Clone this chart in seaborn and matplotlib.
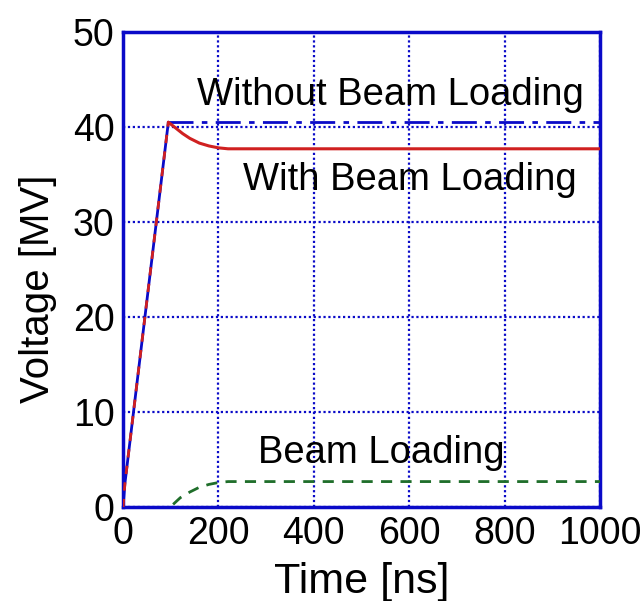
import matplotlib
matplotlib.use("Agg")
import matplotlib.pyplot as plt
import seaborn as sns

# Data
t_rise = [0, 4, 95]
v_rise = [0.0, 2.5, 40.5]

t_without = [95, 1000]
v_without = [40.5, 40.5]

t_with = [95, 110, 125, 140, 160, 180, 200, 220, 1000]
v_with = [40.5, 39.9, 39.3, 38.8, 38.3, 38.0, 37.8, 37.7, 37.7]

t_beam = [105, 120, 140, 160, 180, 200, 220, 1000]
v_beam = [0.3, 1.0, 1.6, 2.1, 2.4, 2.6, 2.7, 2.7]

x_ticks = [0, 200, 400, 600, 800, 1000]
y_ticks = [0, 10, 20, 30, 40, 50]

labels = ["Without Beam Loading", "With Beam Loading", "Beam Loading"]

sns.set_style("white")
plt.rcParams['font.family'] = ['Liberation Sans', 'DejaVu Sans']
plt.rcParams['text.color'] = 'black'
plt.rcParams['axes.labelcolor'] = 'black'

BLUE = "#0a0ac8"
RED = "#d02020"
GREEN = "#1f6e2a"

fig = plt.figure(figsize=(6.44, 6.01), dpi=100)
ax = fig.add_axes([0.191, 0.156, 0.741, 0.791])

sns.lineplot(x=t_rise, y=v_rise, ax=ax, color=BLUE, lw=2, zorder=3)
sns.lineplot(x=t_rise, y=v_rise, ax=ax, color=RED, lw=2, linestyle=(0, (3, 3)), zorder=4)
sns.lineplot(x=t_without, y=v_without, ax=ax, color=BLUE, lw=2,
             linestyle=(0, (9, 3, 2, 3)), zorder=3)
sns.lineplot(x=t_with, y=v_with, ax=ax, color=RED, lw=2.2, zorder=3)
sns.lineplot(x=t_beam, y=v_beam, ax=ax, color=GREEN, lw=2,
             linestyle=(0, (4, 3)), zorder=3)

ax.set_xlim(0, 1000)
ax.set_ylim(0, 50)
ax.set_xticks(x_ticks)
ax.set_yticks(y_ticks)
ax.set_xticklabels([str(v) for v in x_ticks])
ax.set_yticklabels([str(v) for v in y_ticks])
ax.tick_params(axis='both', labelsize=27, labelcolor='black', direction='in',
               length=4, width=1.5, pad=6, color=BLUE)

ax.grid(True, color=BLUE, linestyle=(0, (1, 1.2)), linewidth=1.6, zorder=1)
ax.set_axisbelow(True)
for s in ax.spines.values():
    s.set_color(BLUE)
    s.set_linewidth(2.5)
    s.set_visible(True)

ax.set_xlabel("Time [ns]", fontsize=31)
ax.set_ylabel("Voltage [MV]", fontsize=29)
ax.xaxis.set_label_coords(0.5, -0.115)
ax.yaxis.set_label_coords(-0.138, 0.46)

ax.text(155, 42.3, labels[0], fontsize=27.5, ha='left', va='baseline')
ax.text(252, 33.4, labels[1], fontsize=27.5, ha='left', va='baseline')
ax.text(283, 4.7, labels[2], fontsize=27.5, ha='left', va='baseline')

fig.savefig("out.png", dpi=100, facecolor='white')
